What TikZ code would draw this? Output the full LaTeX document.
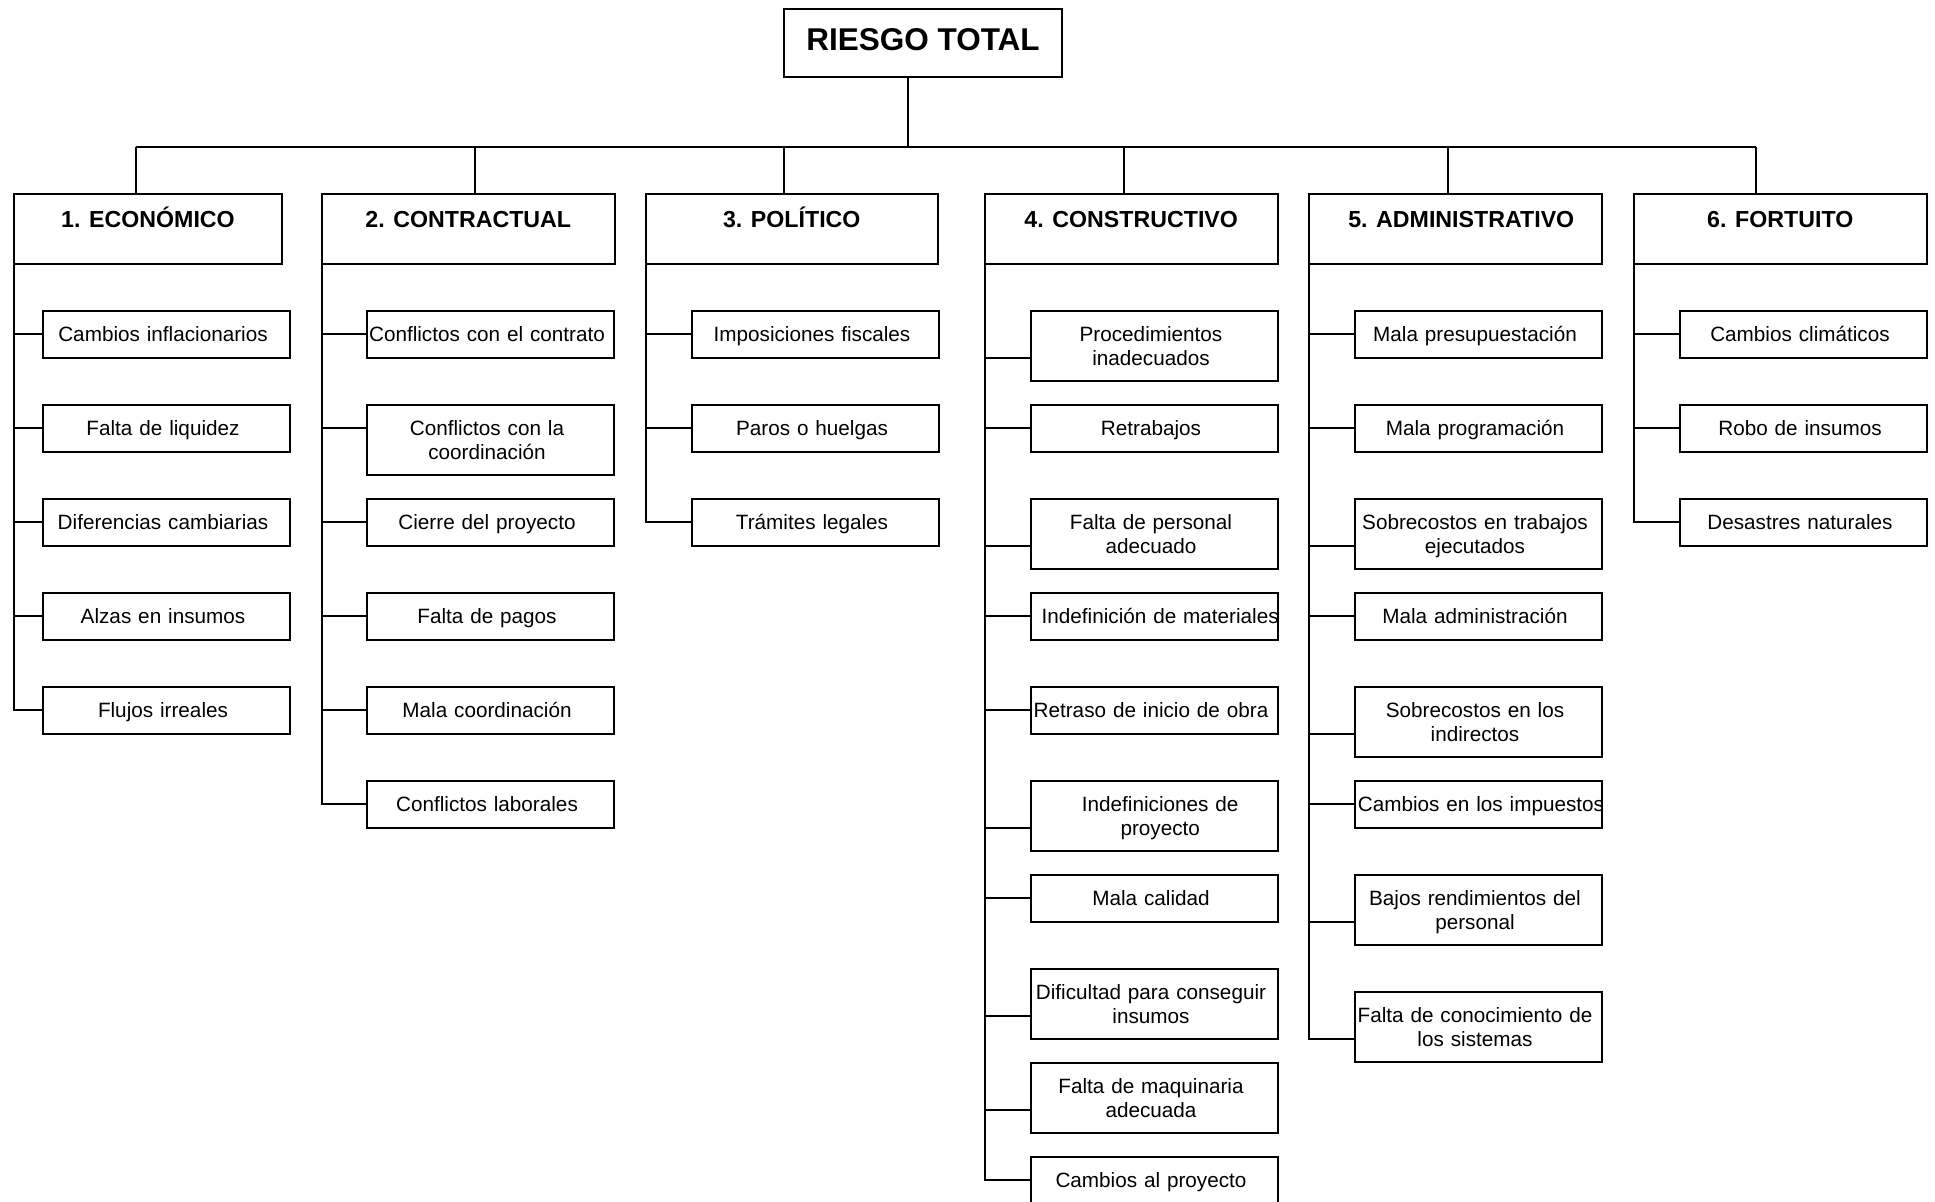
\documentclass[tikz,border=0pt]{standalone}
\usepackage{fontspec}
\setmainfont{Liberation Sans}
\def\itemsize{\fontsize{10.35}{11.7}\selectfont}
\def\catsize{\fontsize{11.6}{13}\selectfont\bfseries}
\def\rootsize{\fontsize{15.75}{18}\selectfont\bfseries}

\begin{document}
\begin{tikzpicture}[x=0.5pt,y=-0.5pt,line width=1pt,
    root/.style={draw,anchor=north west,outer sep=0pt,minimum width=139pt,inner sep=0pt,text height=20.7pt,text depth=13.3pt,font=\rootsize},
    cat/.style={draw,anchor=north west,outer sep=0pt,minimum width=146.25pt,inner xsep=1pt,inner ysep=0pt,text height=17pt,text depth=18.25pt,font=\catsize},
    item/.style={draw,anchor=north west,outer sep=0pt,inner xsep=1pt,inner ysep=0pt,text width=121.5pt,text height=15.4pt,text depth=8.1pt,font=\itemsize,
        execute at begin node={\centering\leftskip=-3.5pt plus 1fil\relax}},
    item2/.style={item,text depth=19.85pt},
    textshift/.style={execute at begin node={\leftskip=0pt plus 1fil\rightskip=#1 plus 1fil\relax}}]

    \useasboundingbox (0,0) rectangle (1935,1202);

    % top of the tree
    \node[root] (root) at (784,9) {RIESGO TOTAL};
    \coordinate (j0) at (908,147);
    \coordinate (j1) at (136,147);
    \coordinate (j2) at (475,147);
    \coordinate (j3) at (784,147);
    \coordinate (j4) at (1124,147);
    \coordinate (j5) at (1448,147);
    \coordinate (j6) at (1756,147);

    \node[cat,minimum width=134pt] (c1) at (14,194) {1. ECONÓMICO};
    \node[cat] (c2) at (322,194) {2. CONTRACTUAL};
    \node[cat] (c3) at (645.5,194) {3. POLÍTICO};
    \node[cat] (c4) at (985,194) {4. CONSTRUCTIVO};
    \node[cat] (c5) at (1309,194) {\hspace*{6pt}5. ADMINISTRATIVO};
    \node[cat] (c6) at (1634,194) {6. FORTUITO};

    \draw (j0 |- root.south) -- (j0);
    \draw (j1) -- (j6);
    \draw (j1) -- (j1 |- c1.north);
    \draw (j2) -- (j2 |- c2.north);
    \draw (j3) -- (j3 |- c3.north);
    \draw (j4) -- (j4 |- c4.north);
    \draw (j5) -- (j5 |- c5.north);
    \draw (j6) -- (j6 |- c6.north);

    % 1. economico
    \node[item] (a1) at (43,311) {Cambios inflacionarios};
    \node[item] (a2) at (43,405) {Falta de liquidez};
    \node[item] (a3) at (43,499) {Diferencias cambiarias};
    \node[item] (a4) at (43,593) {Alzas en insumos};
    \node[item] (a5) at (43,687) {Flujos irreales};
    \draw (c1.south west) |- (a1.west);
    \draw (c1.south west) |- (a2.west);
    \draw (c1.south west) |- (a3.west);
    \draw (c1.south west) |- (a4.west);
    \draw (c1.south west) |- (a5.west);

    % 2. contractual
    \node[item] (b1) at (367,311) {Conflictos con el contrato};
    \node[item2] (b2) at (367,405) {Conflictos con la\\coordinación};
    \node[item] (b3) at (367,499) {Cierre del proyecto};
    \node[item] (b4) at (367,593) {Falta de pagos};
    \node[item] (b5) at (367,687) {Mala coordinación};
    \node[item] (b6) at (367,781) {Conflictos laborales};
    \draw (c2.south west) |- (b1.west);
    \draw (c2.south west) |- ([yshift=-11.75pt]b2.north west);
    \draw (c2.south west) |- (b3.west);
    \draw (c2.south west) |- (b4.west);
    \draw (c2.south west) |- (b5.west);
    \draw (c2.south west) |- (b6.west);

    % 3. politico
    \node[item] (p1) at (692,311) {Imposiciones fiscales};
    \node[item] (p2) at (692,405) {Paros o huelgas};
    \node[item] (p3) at (692,499) {Trámites legales};
    \draw (c3.south west) |- (p1.west);
    \draw (c3.south west) |- (p2.west);
    \draw (c3.south west) |- (p3.west);

    % 4. constructivo
    \node[item2] (d1) at (1031,311) {Procedimientos\\inadecuados};
    \node[item] (d2) at (1031,405) {Retrabajos};
    \node[item2] (d3) at (1031,499) {Falta de personal\\adecuado};
    \node[item,textshift=-5.7pt] (d4) at (1031,593) {Indefinición de materiales};
    \node[item] (d5) at (1031,687) {Retraso de inicio de obra};
    \node[item2,textshift=-5.7pt] (d6) at (1031,781) {Indefiniciones de\\proyecto};
    \node[item] (d7) at (1031,875) {Mala calidad};
    \node[item2] (d8) at (1031,969) {Dificultad para conseguir\\insumos};
    \node[item2] (d9) at (1031,1063) {Falta de maquinaria\\adecuada};
    \node[item] (d10) at (1031,1157) {Cambios al proyecto};
    \draw (c4.south west) |- ([yshift=11.75pt]d1.south west);
    \draw (c4.south west) |- (d2.west);
    \draw (c4.south west) |- ([yshift=11.75pt]d3.south west);
    \draw (c4.south west) |- (d4.west);
    \draw (c4.south west) |- (d5.west);
    \draw (c4.south west) |- ([yshift=11.75pt]d6.south west);
    \draw (c4.south west) |- (d7.west);
    \draw (c4.south west) |- ([yshift=11.75pt]d8.south west);
    \draw (c4.south west) |- ([yshift=11.75pt]d9.south west);
    \draw (c4.south west) |- (d10.west);

    % 5. administrativo
    \node[item] (e1) at (1355,311) {Mala presupuestación};
    \node[item] (e2) at (1355,405) {Mala programación};
    \node[item2] (e3) at (1355,499) {Sobrecostos en trabajos\\ejecutados};
    \node[item] (e4) at (1355,593) {Mala administración};
    \node[item2] (e5) at (1355,687) {Sobrecostos en los\\indirectos};
    \node[item,textshift=-2.5pt] (e6) at (1355,781) {Cambios en los impuestos};
    \node[item2] (e7) at (1355,875) {Bajos rendimientos del\\personal};
    \node[item2] (e8) at (1355,992) {Falta de conocimiento de\\los sistemas};
    \draw (c5.south west) |- (e1.west);
    \draw (c5.south west) |- (e2.west);
    \draw (c5.south west) |- ([yshift=11.75pt]e3.south west);
    \draw (c5.south west) |- (e4.west);
    \draw (c5.south west) |- ([yshift=11.75pt]e5.south west);
    \draw (c5.south west) |- (e6.west);
    \draw (c5.south west) |- ([yshift=11.75pt]e7.south west);
    \draw (c5.south west) |- ([yshift=11.75pt]e8.south west);

    % 6. fortuito
    \node[item] (f1) at (1680,311) {Cambios climáticos};
    \node[item] (f2) at (1680,405) {Robo de insumos};
    \node[item] (f3) at (1680,499) {Desastres naturales};
    \draw (c6.south west) |- (f1.west);
    \draw (c6.south west) |- (f2.west);
    \draw (c6.south west) |- (f3.west);

\end{tikzpicture}
\end{document}
